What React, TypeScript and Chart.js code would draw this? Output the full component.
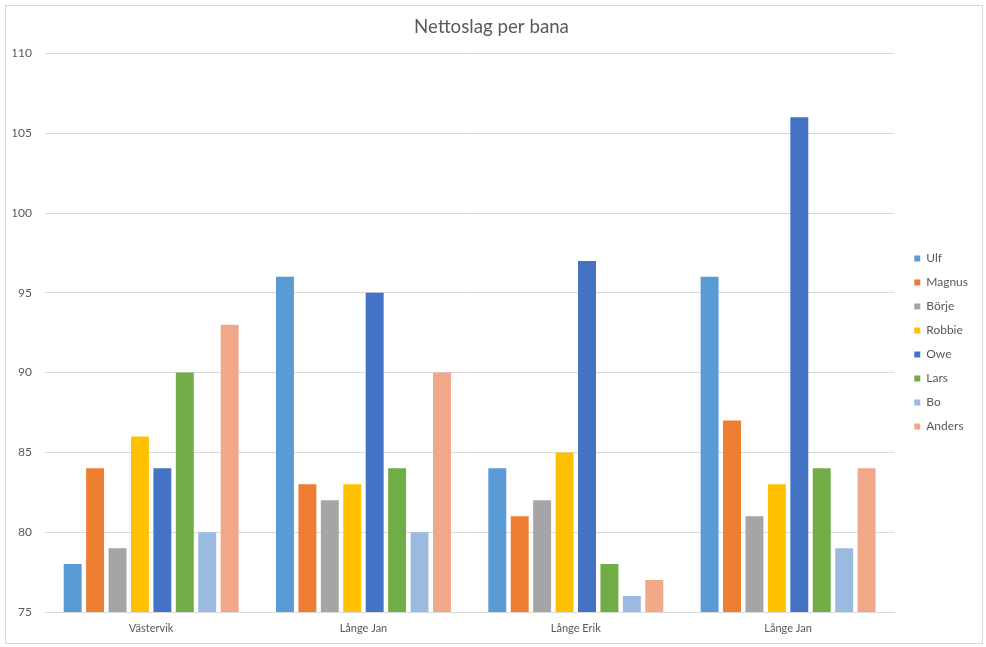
import React, { useEffect, useRef } from "react";
import { Chart, registerables } from "chart.js";

Chart.register(...registerables);

const title = "Nettoslag per bana";
const categories = ["Västervik", "Långe Jan", "Långe Erik", "Långe Jan"];
const players = ["Ulf", "Magnus", "Börje", "Robbie", "Owe", "Lars", "Bo", "Anders"];
const ulf = [78, 96, 84, 96];
const magnus = [84, 83, 81, 87];
const borje = [79, 82, 82, 81];
const robbie = [86, 83, 85, 83];
const owe = [84, 95, 97, 106];
const lars = [90, 84, 78, 84];
const bo = [80, 80, 76, 79];
const anders = [93, 90, 77, 84];
const seriesValues = [ulf, magnus, borje, robbie, owe, lars, bo, anders];
const colors = ["#5B9BD5", "#ED7D31", "#A5A5A5", "#FFC000", "#4472C4", "#70AD47", "#9BBADF", "#F1A889"];
const yMin = 75;
const yMax = 110;
const yStep = 5;

const FONT = "Lato, 'Open Sans', 'Liberation Sans', sans-serif";
const TEXT = "#595959";
const GRID = "#D9D9D9";

const legendShift = {
  id: "legendShift",
  afterLayout(chart: any) {
    const lg = chart.legend;
    if (lg) {
      lg.left += 8;
      lg.right += 8;
      lg.top += 24;
      lg.bottom += 24;
    }
  },
};

export default function App() {
  const ref = useRef<HTMLCanvasElement | null>(null);
  useEffect(() => {
    if (!ref.current) return;
    const chart = new Chart(ref.current, {
      type: "bar",
      data: {
        labels: categories,
        datasets: players.map((p, i) => ({
          label: p,
          data: seriesValues[i],
          backgroundColor: colors[i],
          borderWidth: 0,
          barPercentage: 0.8,
          categoryPercentage: 0.845,
        })),
      },
      options: {
        animation: false,
        responsive: false,
        maintainAspectRatio: false,
        layout: { padding: { left: 13, right: 16, top: 0, bottom: 10 } },
        plugins: {
          title: {
            display: true,
            text: title,
            color: TEXT,
            font: { family: FONT, size: 18.7, weight: "normal" },
            padding: { top: 16, bottom: 15 },
          },
          legend: {
            position: "right",
            align: "center",
            labels: {
              boxWidth: 6,
              boxHeight: 6,
              padding: 12,
              color: TEXT,
              font: { family: FONT, size: 12 },
            },
          },
          tooltip: { enabled: false },
        },
        scales: {
          x: {
            grid: { display: false, drawTicks: false },
            border: { display: true, color: GRID, width: 1 },
            ticks: { color: TEXT, font: { family: FONT, size: 11 }, padding: 10 },
            afterFit(scale: any) {
              scale.height = 25;
            },
          },
          y: {
            min: yMin,
            max: yMax,
            grid: { color: GRID, drawTicks: false },
            border: { display: false },
            ticks: {
              stepSize: yStep,
              color: TEXT,
              font: { family: FONT, size: 12 },
              padding: 13,
            },
            afterFit(scale: any) {
              scale.width = 32;
            },
          },
        },
      },
      plugins: [legendShift],
    } as any);
    return () => chart.destroy();
  }, []);
  return (
    <div style={{ position: "fixed", left: 0, top: 0, width: 986, height: 647, background: "#fff" }}>
      <div
        style={{
          position: "absolute",
          left: 5,
          top: 5,
          width: 976,
          height: 637,
          border: "1px solid #D9D9D9",
          boxSizing: "content-box",
        }}
      />
      <canvas ref={ref} width={986} height={647} style={{ position: "absolute", left: 0, top: 0 }} />
    </div>
  );
}
